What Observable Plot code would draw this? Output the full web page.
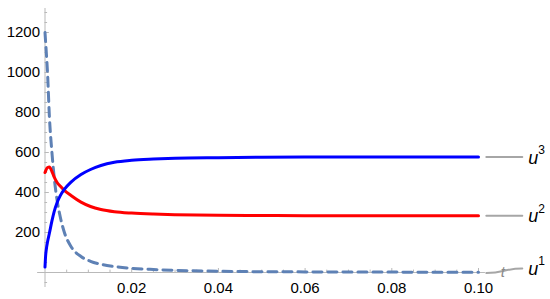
<!DOCTYPE html>
<html>
<head>
<meta charset="utf-8">
<script src="https://cdn.jsdelivr.net/npm/d3@7"></script>
<script src="https://cdn.jsdelivr.net/npm/@observablehq/plot@0.6"></script>
<style>
  html, body { margin: 0; padding: 0; background: #fff; }
</style>
</head>
<body>
<div id="chart"></div>
<script>
// time samples
const t = [0, 0.00015, 0.0003, 0.0006, 0.001, 0.0016, 0.0021, 0.0028, 0.0035, 0.0044, 0.006, 0.0083, 0.0105, 0.0129, 0.016, 0.02, 0.025, 0.03, 0.04, 0.05, 0.06, 0.07, 0.08, 0.09, 0.1];
// series values
const u1 = [1200, 1150, 1100, 990, 785, 600, 480, 360, 280, 205, 130, 80, 56, 41, 30, 21, 15, 11, 6, 4, 3, 2, 2, 1, 1];
const u2 = [500, 508, 516, 525, 527, 505, 478, 450, 432, 412, 385, 352, 330, 315, 304, 297, 292, 289, 286, 285, 284, 284, 284, 284, 284];
const u3 = [27, 85, 115, 155, 195, 258, 303, 350, 383, 414, 452, 490, 515, 535, 551, 561, 567, 571, 574, 576, 577, 577, 577, 577, 577];
const seriesNames = ["u1", "u2", "u3"];
const seriesDigits = ["1", "2", "3"];
const seriesColors = ["#5e81b5", "#ff0000", "#0000ff"];
// tick labels
const xTicks = [0.02, 0.04, 0.06, 0.08, 0.10];
const yTicks = [200, 400, 600, 800, 1000, 1200];
const xMinor = [0.005, 0.01, 0.015, 0.025, 0.03, 0.035, 0.045, 0.05, 0.055, 0.065, 0.07, 0.075, 0.085, 0.09, 0.095];
const yMinor = [-50, 50, 100, 150, 250, 300, 350, 450, 500, 550, 650, 700, 750, 850, 900, 950, 1050, 1100, 1150, 1250, 1300];
const axisLabel = "t";

const rows = (vals) => t.map((x, i) => ({t: x, v: vals[i]}));
const d1 = rows(u1), d2 = rows(u2), d3r = rows(u3);

// label connectors (end value → label)
const endVals = [u1[u1.length - 1], u2[u2.length - 1], u3[u3.length - 1]];
const labelY = [20, endVals[1], endVals[2]];
const labels = seriesNames.map((n, i) => ({name: n, digit: seriesDigits[i], yEnd: endVals[i], yLab: labelY[i]}));
const connectors = labels.flatMap((l) => [
  {name: l.name, x: 0.1018, y: l.name === "u1" ? -3 : l.yEnd},
  {name: l.name, x: 0.1101, y: l.yLab}
]);

const axisColor = "#b9b9b9";

const chart = Plot.plot({
  width: 550,
  height: 299,
  marginLeft: 44.5,
  marginRight: 72,
  marginTop: 32,
  marginBottom: 27,
  style: {fontFamily: "'Liberation Sans', Arial, sans-serif", fontSize: "15px", background: "#fff", color: "#000"},
  x: {domain: [0, 0.1], axis: null},
  y: {domain: [0, 1200], axis: null},
  marks: [
    // axes lines
    Plot.ruleY([0], {x1: -0.0017, x2: 0.1016, stroke: axisColor, strokeWidth: 1}),
    Plot.ruleX([0], {y1: -75, y2: 1320, stroke: axisColor, strokeWidth: 1}),
    // ticks
    Plot.ruleX(xTicks, {x: (d) => d, y1: 0, y2: 20, stroke: axisColor}),
    Plot.ruleX(xMinor, {x: (d) => d, y1: 0, y2: 12, stroke: axisColor}),
    Plot.ruleY(yTicks, {y: (d) => d, x1: 0, x2: 0.001, stroke: axisColor}),
    Plot.ruleY(yMinor, {y: (d) => d, x1: 0, x2: 0.0006, stroke: axisColor}),
    // tick labels
    Plot.axisX(xTicks, {tickSize: 0, tickPadding: 10, tickFormat: (d) => d.toFixed(2), fontSize: 15, fill: "#000"}),
    Plot.axisY(yTicks, {tickSize: 0, tickPadding: 5, tickFormat: (d) => String(d), fontSize: 15, fill: "#000"}),
    // series
    Plot.line(d1, {x: "t", y: "v", stroke: seriesColors[0], strokeWidth: 3, strokeDasharray: "9,6", curve: "monotone-x"}),
    Plot.line(d2, {x: "t", y: "v", stroke: seriesColors[1], strokeWidth: 3, curve: "monotone-x"}),
    Plot.line(d3r, {x: "t", y: "v", stroke: seriesColors[2], strokeWidth: 3, curve: "monotone-x"}),
    // label connectors
    Plot.line(connectors, {x: "x", y: "y", z: "name", stroke: "#a6a6a6", strokeWidth: 2, curve: "bump-x"}),
    // axis label t
    Plot.text([axisLabel], {x: 0.1056, y: 0, text: (d) => d, fontStyle: "italic", fontSize: 15, fill: "#8a8a8a"}),
    // series labels
    Plot.text(labels, {x: 0.1115, y: "yLab", text: () => "u", textAnchor: "start", fontStyle: "italic", fontSize: 18, fill: "#000", dy: 1}),
    Plot.text(labels, {x: 0.1115, y: "yLab", text: "digit", textAnchor: "start", fontSize: 12, fill: "#000", dx: 10, dy: -7})
  ]
});
document.getElementById("chart").appendChild(chart);
</script>
</body>
</html>
